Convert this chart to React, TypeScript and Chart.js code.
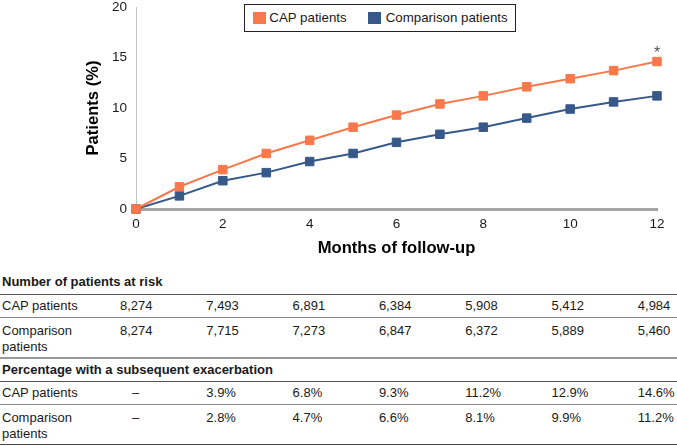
import React, { useEffect, useRef } from "react";
import { Chart, registerables } from "chart.js";

Chart.register(...registerables);

// ---- Chart data ----
const months = [0, 1, 2, 3, 4, 5, 6, 7, 8, 9, 10, 11, 12];
const capPercent = [0, 2.2, 3.9, 5.5, 6.8, 8.1, 9.3, 10.4, 11.2, 12.1, 12.9, 13.7, 14.6];
const comparisonPercent = [0, 1.3, 2.8, 3.6, 4.7, 5.5, 6.6, 7.4, 8.1, 9.0, 9.9, 10.6, 11.2];
const seriesLabels = ["CAP patients", "Comparison patients"];
const seriesColors = ["#F7794B", "#37598A"];
const yAxisTitle = "Patients (%)";
const xAxisTitle = "Months of follow-up";
const significanceMark = "*";

// ---- Table data ----
const riskTitle = "Number of patients at risk";
const riskCAP = ["8,274", "7,493", "6,891", "6,384", "5,908", "5,412", "4,984"];
const riskComparison = ["8,274", "7,715", "7,273", "6,847", "6,372", "5,889", "5,460"];
const pctTitle = "Percentage with a subsequent exacerbation";
const pctCAP = ["–", "3.9%", "6.8%", "9.3%", "11.2%", "12.9%", "14.6%"];
const pctComparison = ["–", "2.8%", "4.7%", "6.6%", "8.1%", "9.9%", "11.2%"];
const rowLabelCAP = "CAP patients";
const rowLabelComparison = ["Comparison", "patients"];

const FONT = "'Liberation Sans', Arial, Helvetica, sans-serif";

const COL_X = [120, 206.3, 292.6, 378.9, 465.2, 551.5, 637.8];

function Row({ top, label, values, dashRow }: { top: number; label: string | string[]; values: string[]; dashRow?: boolean }) {
  const lines = Array.isArray(label) ? label : [label];
  return (
    <>
      <div style={{ position: "absolute", left: 2, top, lineHeight: "15.5px", fontSize: 13, whiteSpace: "nowrap" }}>
        {lines.map((l, i) => (
          <div key={i}>{l}</div>
        ))}
      </div>
      {values.map((v, i) => (
        <div
          key={i}
          style={{
            position: "absolute",
            left: dashRow && i === 0 ? 132 : COL_X[i],
            top,
            lineHeight: "15.5px",
            fontSize: 13,
            whiteSpace: "nowrap",
          }}
        >
          {v}
        </div>
      ))}
    </>
  );
}

function HLine({ y, color, h }: { y: number; color: string; h: number }) {
  return <div style={{ position: "absolute", left: 0, top: y - h / 2, width: 677, height: h, background: color }} />;
}

export default function App() {
  const ref = useRef<HTMLCanvasElement>(null);

  useEffect(() => {
    const asteriskPlugin = {
      id: "asterisk",
      afterDatasetsDraw(chart: any) {
        const meta = chart.getDatasetMeta(0);
        const pt = meta.data[meta.data.length - 1];
        if (!pt) return;
        const ctx = chart.ctx;
        ctx.save();
        ctx.font = `16px ${FONT}`;
        ctx.fillStyle = "#555555";
        ctx.textAlign = "center";
        ctx.textBaseline = "alphabetic";
        ctx.fillText(significanceMark, pt.x, pt.y - 4);
        ctx.restore();
      },
    };

    const makeData = (vals: number[]) => months.map((m, i) => ({ x: m, y: vals[i] }));

    const chart = new Chart(ref.current as HTMLCanvasElement, {
      type: "line",
      data: {
        datasets: [
          {
            label: seriesLabels[0],
            data: makeData(capPercent),
            borderColor: seriesColors[0],
            backgroundColor: seriesColors[0],
            pointBackgroundColor: seriesColors[0],
            pointBorderColor: seriesColors[0],
            borderWidth: 2,
            pointStyle: "rect",
            pointRadius: 6,
            pointBorderWidth: 1,
            tension: 0,
            clip: false as any,
          },
          {
            label: seriesLabels[1],
            data: makeData(comparisonPercent),
            borderColor: seriesColors[1],
            backgroundColor: seriesColors[1],
            pointBackgroundColor: seriesColors[1],
            pointBorderColor: seriesColors[1],
            borderWidth: 2,
            pointStyle: "rect",
            pointRadius: 6,
            pointBorderWidth: 1,
            tension: 0,
            clip: false as any,
          },
        ],
      },
      options: {
        animation: false,
        responsive: false,
        events: [],
        layout: { padding: { left: 79, right: 20, top: 5, bottom: 3 } },
        plugins: {
          legend: { display: false },
          tooltip: { enabled: false },
        },
        scales: {
          x: {
            type: "linear",
            min: 0,
            max: 12,
            grid: { display: false, drawTicks: false },
            border: { display: true, color: "#A6A6A6", width: 3 },
            ticks: {
              stepSize: 2,
              padding: 7,
              color: "#1a1a1a",
              font: { family: FONT, size: 13.5 },
            },
            title: {
              display: true,
              text: xAxisTitle,
              color: "#000",
              font: { family: FONT, size: 16.6, weight: "bold" },
              padding: { top: 4, bottom: 4 },
            },
            afterFit(scale: any) {
              scale.height = 53;
            },
          },
          y: {
            type: "linear",
            min: 0,
            max: 20,
            grid: { display: false, drawTicks: false },
            border: { display: true, color: "#C4C4C4", width: 1 },
            ticks: {
              stepSize: 5,
              padding: 9,
              color: "#1a1a1a",
              font: { family: FONT, size: 13.5 },
            },
            title: {
              display: true,
              text: yAxisTitle,
              color: "#000",
              font: { family: FONT, size: 16.6, weight: "bold" },
              padding: { top: 4, bottom: 4 },
            },
            afterFit(scale: any) {
              scale.width = 57;
              scale.paddingTop = 0;
              scale.paddingBottom = 0;
            },
          },
        },
      } as any,
      plugins: [asteriskPlugin],
    });
    return () => chart.destroy();
  }, []);

  return (
    <div
      style={{
        position: "absolute",
        left: 0,
        top: 0,
        width: 677,
        height: 446,
        background: "#fff",
        fontFamily: FONT,
        color: "#1a1a1a",
        overflow: "hidden",
      }}
    >
      <canvas ref={ref} width={677} height={265} style={{ position: "absolute", left: 0, top: 0, width: 677, height: 265 }} />

      {/* Legend */}
      <div
        style={{
          position: "absolute",
          left: 244,
          top: 4,
          width: 272,
          height: 28,
          boxSizing: "border-box",
          border: "1px solid #222",
          background: "#fff",
          fontSize: 13.3,
        }}
      >
        <div style={{ position: "absolute", left: 7.7, top: 7.3, width: 13, height: 12, background: seriesColors[0] }} />
        <div style={{ position: "absolute", left: 24.3, top: 4.75, lineHeight: "16px", whiteSpace: "nowrap" }}>{seriesLabels[0]}</div>
        <div style={{ position: "absolute", left: 122.5, top: 7.3, width: 13, height: 12, background: seriesColors[1] }} />
        <div style={{ position: "absolute", left: 140.7, top: 4.75, lineHeight: "16px", whiteSpace: "nowrap" }}>{seriesLabels[1]}</div>
      </div>

      {/* Table */}
      <div style={{ position: "absolute", left: 2, top: 274, lineHeight: "15.5px", fontSize: 13, fontWeight: "bold", whiteSpace: "nowrap" }}>
        {riskTitle}
      </div>
      <HLine y={294.3} color="#555" h={1} />
      <Row top={298} label={rowLabelCAP} values={riskCAP} />
      <HLine y={317.3} color="#888" h={1} />
      <Row top={323} label={rowLabelComparison} values={riskComparison} />
      <HLine y={357.7} color="#999" h={2} />
      <div style={{ position: "absolute", left: 2, top: 362, lineHeight: "15.5px", fontSize: 13, fontWeight: "bold", whiteSpace: "nowrap" }}>
        {pctTitle}
      </div>
      <HLine y={381} color="#555" h={1} />
      <Row top={385} label={rowLabelCAP} values={pctCAP} dashRow />
      <HLine y={404.7} color="#888" h={1} />
      <Row top={410} label={rowLabelComparison} values={pctComparison} dashRow />
      <HLine y={444.5} color="#444" h={1} />
    </div>
  );
}
